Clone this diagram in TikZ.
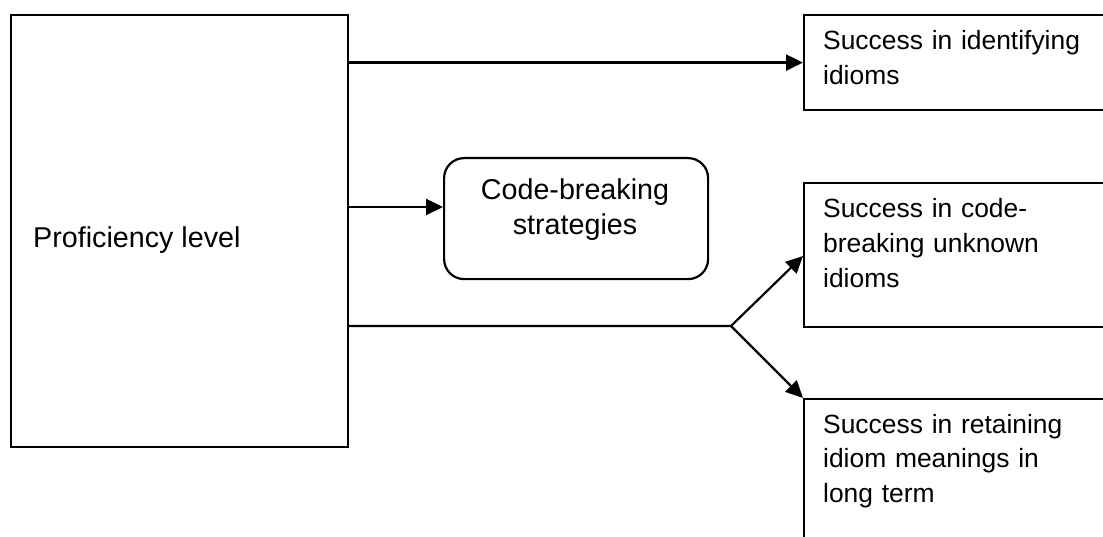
\documentclass[tikz,border=0pt]{standalone}
\usepackage{fontspec}
\setmainfont{Liberation Sans}
\usetikzlibrary{arrows.meta}
\begin{document}
\begin{tikzpicture}[x=1bp,y=-1bp,
  frame/.style={draw, line width=2.2bp, inner sep=0pt, anchor=north west},
  bigtxt/.style={font=\fontsize{28.8}{35.5}\selectfont, inner sep=0pt},
  smalltxt/.style={font=\fontsize{26.5}{35.1}\selectfont, inner sep=0pt},
  leftlabel/.style={smalltxt, align=left, text width=290bp, anchor=base west},
  link/.style={line width=2.2bp, -{Triangle[length=17bp,width=16bp]}}]
\useasboundingbox (0,0) rectangle (1103,537);
\clip (0,0) rectangle (1103,537);

% boxes
\node[frame, minimum width=337bp, minimum height=432bp] (prof) at (10,14) {};
\node[frame, minimum width=317bp, minimum height=95bp] (ident) at (803,14) {};
\node[frame, rounded corners=20bp, minimum width=264bp, minimum height=121bp] (strat) at (443,157) {};
\node[frame, minimum width=317bp, minimum height=144bp] (decode) at (803,182) {};
\node[frame, minimum width=317bp, minimum height=170bp] (retain) at (803,398) {};

% texts
\node[bigtxt, anchor=base west] (proftext) at (33,248) {Proficiency level};
\node[leftlabel] (identtext) at (823,50) {Success in identifying\\idioms};
\node[bigtxt, align=center, anchor=base] (strattext) at (575,235) {Code-breaking\\strategies};
\node[leftlabel] (decodetext) at (823,218) {Success in code-\\breaking unknown\\idioms};
\node[leftlabel] (retaintext) at (823,433) {Success in retaining\\idiom meanings in\\long term};

% connectors
\coordinate (fork) at (731,326);
\draw[link] (prof.east |- ident.west) -- (ident.west);
\draw[link] (prof.east |- 0,207) -- (strat.west |- 0,207);
\draw[link] (prof.east |- fork) -- (fork) -- (decode.west |- 0,256);
\draw[link] (fork) -- (retain.north west);
\end{tikzpicture}
\end{document}
